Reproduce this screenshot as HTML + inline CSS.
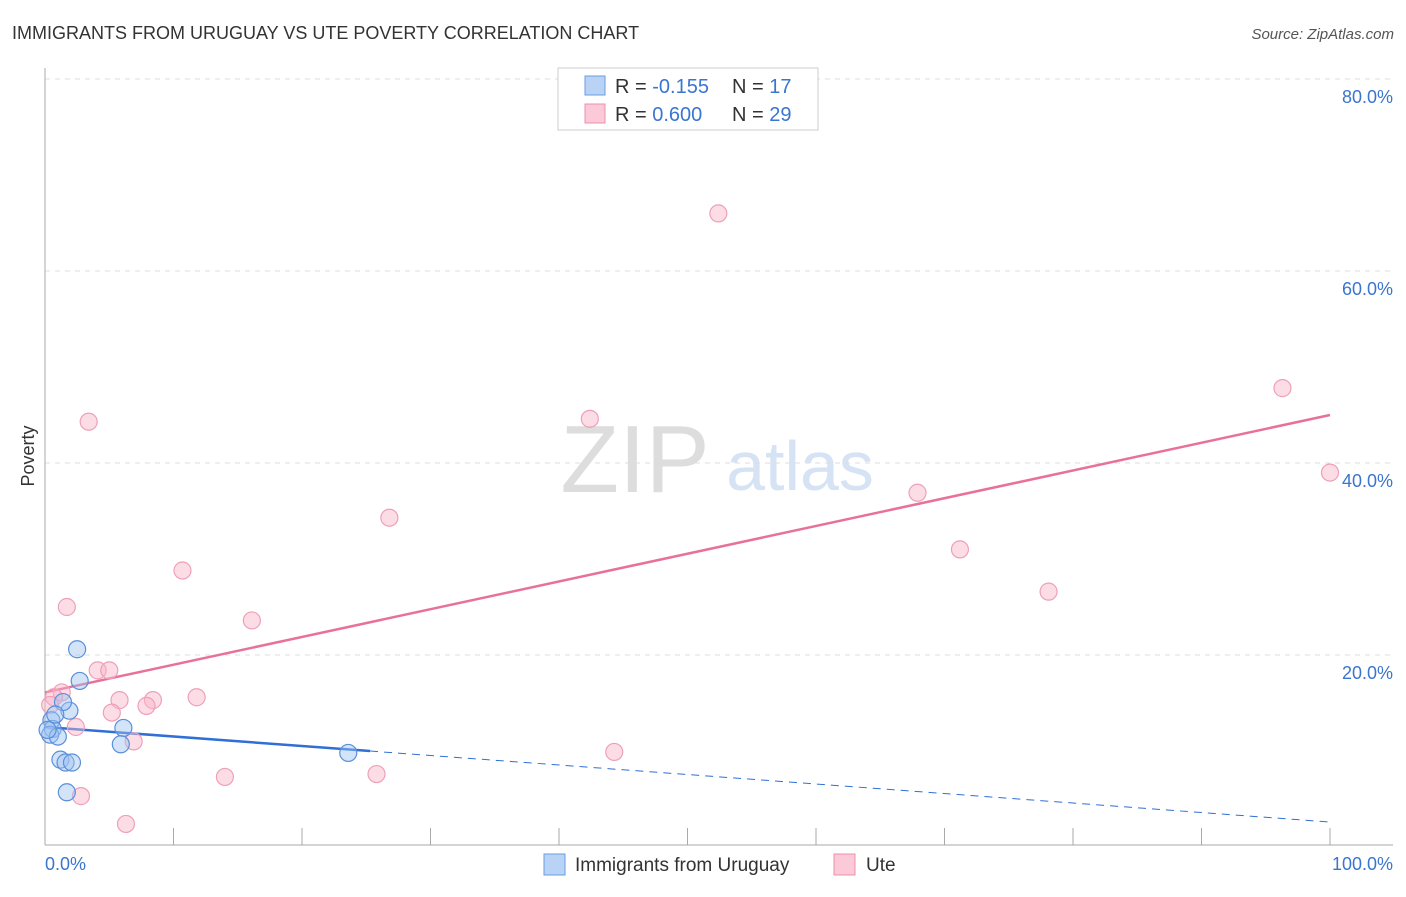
<!DOCTYPE html>
<html><head><meta charset="utf-8"><style>
body{margin:0;background:#fff;font-family:"Liberation Sans",sans-serif}
svg text{font-family:"Liberation Sans",sans-serif}
</style></head><body>
<svg id="c" width="1406" height="892" viewBox="0 0 1406 892">
<text x="12" y="39" font-size="18" fill="#333">IMMIGRANTS FROM URUGUAY VS UTE POVERTY CORRELATION CHART</text>
<text x="1394" y="39" font-size="15" fill="#555" text-anchor="end" font-style="italic">Source: ZipAtlas.com</text>
<text x="0" y="0" transform="translate(34,456) rotate(-90)" font-size="18" fill="#333" text-anchor="middle">Poverty</text>
<text x="635" y="492" font-size="96" fill="#ddd" text-anchor="middle" font-family="Liberation Serif">ZIP</text>
<text x="800" y="490" font-size="70" fill="#d5e3f5" text-anchor="middle">atlas</text>
<g id="grid"></g><g id="axes"></g>
<g id="trend"></g><g id="pts"></g>
<g>
<rect x="558" y="68" width="260" height="62" fill="#fff" stroke="#ccc"/>
<rect x="585" y="76" width="20" height="19" fill="#b8d3f5" stroke="#6a9de0"/>
<rect x="585" y="104" width="20" height="19" fill="#fbc9d8" stroke="#ec8fae"/>
<text x="615" y="93" font-size="20" fill="#333">R = <tspan fill="#3a75d0">-0.155</tspan></text>
<text x="732" y="93" font-size="20" fill="#333">N = <tspan fill="#3a75d0"> 17</tspan></text>
<text x="615" y="121" font-size="20" fill="#333">R = <tspan fill="#3a75d0"> 0.600</tspan></text>
<text x="732" y="121" font-size="20" fill="#333">N = <tspan fill="#3a75d0">29</tspan></text>
</g>
<g>
<rect x="544" y="854" width="21" height="21" fill="#b8d3f5" stroke="#6a9de0"/>
<text x="575" y="871" font-size="19" fill="#333">Immigrants from Uruguay</text>
<rect x="834" y="854" width="21" height="21" fill="#fbc9d8" stroke="#ec8fae"/>
<text x="866" y="871" font-size="19" fill="#333">Ute</text>
</g>
<text x="45" y="870" font-size="18" fill="#3a75d0">0.0%</text>
<text x="1393" y="870" font-size="18" fill="#3a75d0" text-anchor="end">100.0%</text>
</svg>
<script>
const yTicks=[20,40,60,80];
const blueX=[2.5,2.7,1.9,1.4,0.5,0.6,0.4,1.0,1.2,1.6,2.1,1.7,6.1,5.9,23.6,0.8,0.2];
const blueY=[20.6,17.3,14.2,15.1,13.2,12.3,11.7,11.5,9.1,8.8,8.8,5.7,12.4,10.7,9.8,13.8,12.2];
const pinkX=[3.4,1.7,10.7,16.1,26.8,42.4,52.4,67.9,71.2,78.1,96.3,100,4.1,5.0,1.3,0.7,5.8,5.2,8.4,7.9,11.8,2.4,6.9,2.8,6.3,14.0,25.8,44.3,0.4];
const pinkY=[44.3,25.0,28.8,23.6,34.3,44.6,66.0,36.9,31.0,26.6,47.8,39.0,18.4,18.4,16.1,15.6,15.3,14.0,15.3,14.7,15.6,12.5,11.0,5.3,2.4,7.3,7.6,9.9,14.8];
const pinkTrend=[16.1,45.0];
const blueTrend=[12.5,2.6];
const blueSolidEnd=25.3;
const sx=v=>45+v*12.85, sy=v=>847-v*9.6;
const NS="http://www.w3.org/2000/svg";
function mk(p,t,a){const e=document.createElementNS(NS,t);for(const k in a)e.setAttribute(k,a[k]);document.getElementById(p).appendChild(e);return e;}
yTicks.forEach(t=>{
 const l=mk('grid','line',{x1:45,x2:1393,y1:sy(t),y2:sy(t),stroke:'#ddd','stroke-dasharray':'5,5'});
 
 
 const tx=mk('grid','text',{x:1393,y:sy(t)+24,'font-size':18,fill:'#3a75d0','text-anchor':'end'});
 tx.textContent=t.toFixed(1)+'%';
 
 
});
let a=mk('axes','line',{x1:45,x2:45,y1:68,y2:845,stroke:'#aaa'});


a=mk('axes','line',{x1:45,x2:1393,y1:845,y2:845,stroke:'#aaa'});


for(let i=0;i<=10;i++){const t=mk('axes','line',{x1:sx(i*10),x2:sx(i*10),y1:828,y2:845,stroke:'#aaa'});
 
 }
let t1=mk('trend','line',{x1:sx(0),y1:sy(pinkTrend[0]),x2:sx(100),y2:sy(pinkTrend[1]),stroke:'#e8709a','stroke-width':2.5});


const by=x=>blueTrend[0]+(blueTrend[1]-blueTrend[0])*x/100;
let t2=mk('trend','line',{x1:sx(0),y1:sy(by(0)),x2:sx(blueSolidEnd),y2:sy(by(blueSolidEnd)),stroke:'#2f6fd6','stroke-width':2.5});


let t3=mk('trend','line',{x1:sx(blueSolidEnd),y1:sy(by(blueSolidEnd)),x2:sx(100),y2:sy(by(100)),stroke:'#2f6fd6','stroke-width':1,'stroke-dasharray':'8,6'});


pinkX.forEach((x,i)=>{const c=mk('pts','circle',{cx:sx(x),cy:sy(pinkY[i]),r:8.5,fill:'rgba(248,180,200,0.45)',stroke:'#eea0b8','stroke-width':1.2});
 
 });
blueX.forEach((x,i)=>{const c=mk('pts','circle',{cx:sx(x),cy:sy(blueY[i]),r:8.5,fill:'rgba(160,195,240,0.45)',stroke:'#5a8fdc','stroke-width':1.2});
 
 });
</script>
</body></html>
